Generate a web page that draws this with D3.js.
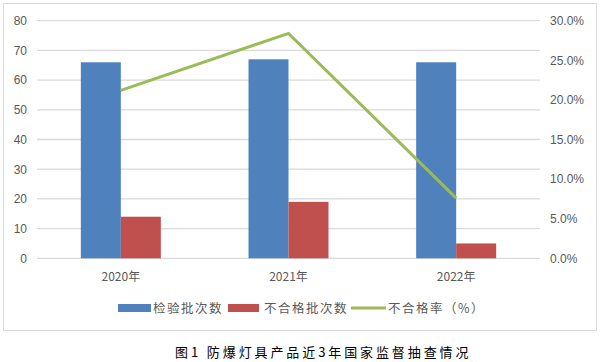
<!DOCTYPE html>
<html>
<head>
<meta charset="utf-8">
<script src="https://cdn.jsdelivr.net/npm/d3@7"></script>
<style>
  body { margin: 0; background: #fff; }
  svg text { font-family: "Noto Sans CJK SC", "Liberation Sans", sans-serif; }
</style>
</head>
<body>
<div id="chart"></div>
<script>
var years = ["2020年", "2021年", "2022年"];
var inspected = [66, 67, 66];
var failed = [14, 19, 5];
var failRate = [21.2, 28.4, 7.6];
var leftTicks = [0, 10, 20, 30, 40, 50, 60, 70, 80];
var rightTicks = [0, 5, 10, 15, 20, 25, 30];

var w = 601, h = 362;
var plotLeft = 37, plotRight = 540, plotTop = 20.7, plotBottom = 258.3;

var svg = d3.select("#chart").append("svg")
    .attr("width", w)
    .attr("height", h);

// frame
svg.append("rect")
    .attr("x", 3.5).attr("y", 3.5)
    .attr("width", 593).attr("height", 327)
    .attr("fill", "none")
    .attr("stroke", "#d9d9d9");

var x = d3.scaleBand().domain(years).range([plotLeft, plotRight]);
var y = d3.scaleLinear().domain([0, 80]).range([plotBottom, plotTop]);
var y2 = d3.scaleLinear().domain([0, 30]).range([plotBottom, plotTop]);

// gridlines
svg.append("g").selectAll("line")
    .data(leftTicks)
    .enter().append("line")
    .attr("x1", plotLeft).attr("x2", plotRight)
    .attr("y1", function(d) { return y(d); })
    .attr("y2", function(d) { return y(d); })
    .attr("stroke", "#d9d9d9")
    .attr("stroke-width", 1.3);

// left axis
var yAxis = svg.append("g")
    .attr("transform", "translate(" + plotLeft + ",0)")
    .call(d3.axisLeft(y).tickValues(leftTicks).tickSize(0).tickPadding(10));
yAxis.select(".domain").remove();
yAxis.selectAll("text").attr("fill", "#595959").style("font-size", "12px")
    .style("font-family", "'Liberation Sans', sans-serif");

// right axis
var y2Axis = svg.append("g")
    .attr("transform", "translate(" + plotRight + ",0)")
    .call(d3.axisRight(y2).tickValues(rightTicks).tickSize(0).tickPadding(10)
        .tickFormat(function(d) { return d.toFixed(1) + "%"; }));
y2Axis.select(".domain").remove();
y2Axis.selectAll("text").attr("fill", "#595959").style("font-size", "12px")
    .style("font-family", "'Liberation Sans', sans-serif");

// x labels
svg.append("g").selectAll("text")
    .data(years)
    .enter().append("text")
    .attr("x", function(d) { return x(d) + x.bandwidth() / 2; })
    .attr("y", 281)
    .attr("text-anchor", "middle")
    .attr("fill", "#595959")
    .style("font-size", "12px")
    .text(function(d) { return d; });

var barW = 40;

svg.append("g").selectAll("rect")
    .data(inspected)
    .enter().append("rect")
    .attr("x", function(d, i) { return x(years[i]) + x.bandwidth() / 2 - barW; })
    .attr("y", function(d) { return y(d); })
    .attr("width", barW)
    .attr("height", function(d) { return plotBottom - y(d); })
    .attr("fill", "#4f81bd");

svg.append("g").selectAll("rect")
    .data(failed)
    .enter().append("rect")
    .attr("x", function(d, i) { return x(years[i]) + x.bandwidth() / 2; })
    .attr("y", function(d) { return y(d); })
    .attr("width", barW)
    .attr("height", function(d) { return plotBottom - y(d); })
    .attr("fill", "#c0504d");

var line = d3.line()
    .x(function(d, i) { return x(years[i]) + x.bandwidth() / 2; })
    .y(function(d) { return y2(d); });

svg.append("path")
    .datum(failRate)
    .attr("d", line)
    .attr("fill", "none")
    .attr("stroke", "#9bbb59")
    .attr("stroke-width", 3);

// legend
var lg = svg.append("g");
lg.append("rect").attr("x", 118).attr("y", 304).attr("width", 33).attr("height", 8).attr("fill", "#4f81bd");
lg.append("text").attr("x", 153).attr("y", 313).text("检验批次数");
lg.append("rect").attr("x", 228).attr("y", 304).attr("width", 31).attr("height", 8).attr("fill", "#c0504d");
lg.append("text").attr("x", 264).attr("y", 313).text("不合格批次数");
lg.append("line").attr("x1", 351).attr("x2", 386).attr("y1", 308).attr("y2", 308)
    .attr("stroke", "#9bbb59").attr("stroke-width", 3);
lg.append("text").attr("x", 388).attr("y", 313).text("不合格率（%）");
lg.selectAll("text").attr("fill", "#595959").style("font-size", "12.5px")
    .style("letter-spacing", "1.5px");

// caption
svg.append("text")
    .attr("x", 175).attr("y", 357)
    .attr("fill", "#000")
    .style("font-size", "13px")
    .style("letter-spacing", "2.9px")
    .text("图1 防爆灯具产品近3年国家监督抽查情况");
</script>
</body>
</html>
